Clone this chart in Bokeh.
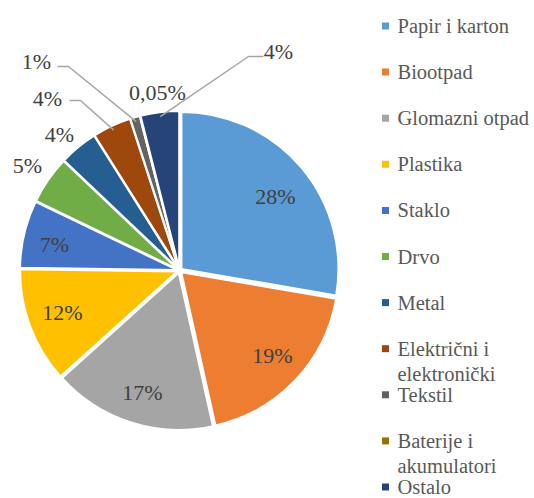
import math
from bokeh.plotting import figure
from bokeh.models import Range1d, ColumnDataSource
from bokeh.core.properties import value
from bokeh.embed import file_html
from bokeh.resources import INLINE

# ---- data ----
categories = ["Papir i karton", "Biootpad", "Glomazni otpad", "Plastika", "Staklo",
              "Drvo", "Metal", "Električni i elektronički", "Tekstil",
              "Baterije i akumulatori", "Ostalo"]
legend_lines = ["Papir i karton", "Biootpad", "Glomazni otpad", "Plastika", "Staklo",
                "Drvo", "Metal", "Električni i\nelektronički", "Tekstil",
                "Baterije i\nakumulatori", "Ostalo"]
shares = [28, 19, 17, 12, 7, 5, 4, 4, 1, 0.05, 4]
share_labels = ["28%", "19%", "17%", "12%", "7%", "5%", "4%", "4%", "1%", "0,05%", "4%"]
colors = ["#5B9BD5", "#ED7D31", "#A5A5A5", "#FFC000", "#4472C4", "#70AD47",
          "#255E91", "#9E480E", "#636363", "#997300", "#264478"]

# ---- layout (page pixel -> data coords) ----
W, H = 534, 498
def X(ix):
    return ix
def Y(iy):
    return H - iy

CX, CY, R = X(179), Y(270), 157
EXPLODE = 2.5

p = figure(width=W, height=H, output_backend="svg", toolbar_location=None,
           x_range=Range1d(0, W), y_range=Range1d(0, H),
           x_axis_type=None, y_axis_type=None, min_border=0)
p.grid.visible = False
p.outline_line_color = None
p.background_fill_color = "white"
p.border_fill_color = "white"

total = sum(shares)
starts, ends, mids, xs, ys = [], [], [], [], []
cum = 0.0
for s in shares:
    a0 = math.pi / 2 - 2 * math.pi * cum / total
    a1 = a0 - 2 * math.pi * s / total
    cum += s
    m = (a0 + a1) / 2
    starts.append(a1)
    ends.append(a0)
    mids.append(m)
    xs.append(CX + EXPLODE * math.cos(m))
    ys.append(CY + EXPLODE * math.sin(m))

src = ColumnDataSource(dict(x=xs, y=ys, start=starts, end=ends, color=colors, cat=categories))
p.wedge(x="x", y="y", radius=R, start_angle="start", end_angle="end",
        direction="anticlock", fill_color="color", line_color="white",
        line_width=2, source=src)

LABEL_COLOR = "#404040"
FONT = value("'Liberation Serif', serif")

# data label placements (page pixel positions of label centres)
label_pos = [(275, 196), (272, 355), (142, 392), (62, 312), (54, 244),
             (27, 165), (59, 134), (47, 98), (36, 61), (157, 92), (278, 51)]
p.text(x=[X(a) for a, b in label_pos], y=[Y(b) for a, b in label_pos], text=share_labels,
       text_font=FONT, text_font_size="22px",
       text_color=LABEL_COLOR, text_align="center", text_baseline="middle")

# leader lines: label-side start, elbow, then slice edge
leaders = {7: ((69, 100), (80, 100)), 8: ((57, 66), (68, 66)), 10: ((263, 56), (248, 56))}
for i, (a, b) in leaders.items():
    ex = CX + (R - 2) * math.cos(mids[i])
    ey = CY + (R - 2) * math.sin(mids[i])
    p.line(x=[X(a[0]), X(b[0]), ex], y=[Y(a[1]), Y(b[1]), ey],
           line_color="#A6A6A6", line_width=1.5)

# legend
LEG_X_SQ, LEG_X_TXT = X(385), X(397)
sq_x, sq_y, lt_x, lt_y, lt_t = [], [], [], [], []
for i, lab in enumerate(legend_lines):
    y0 = 25.5 + i * 46.1
    sq_x.append(LEG_X_SQ)
    sq_y.append(Y(y0))
    for k, line in enumerate(lab.split("\n")):
        lt_x.append(LEG_X_TXT)
        lt_y.append(Y(y0 + k * 25))
        lt_t.append(line)
p.scatter(x=sq_x, y=sq_y, marker="square", size=7, fill_color=colors, line_color=None)
p.text(x=lt_x, y=lt_y, text=lt_t, text_font=FONT, text_font_size="20.5px",
       text_color="#595959", text_align="left", text_baseline="middle")

open("out.html", "w").write(file_html(p, INLINE))
